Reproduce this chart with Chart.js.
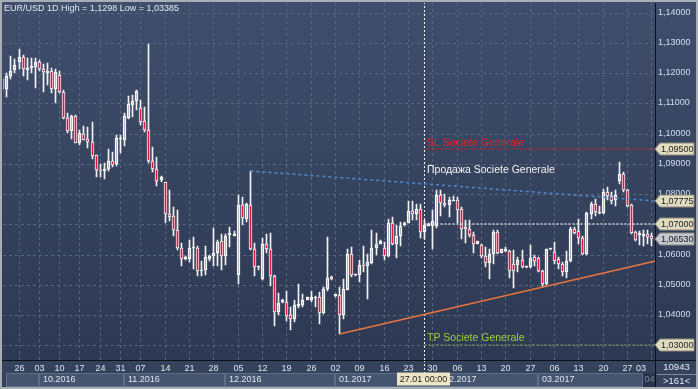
<!DOCTYPE html>
<html>
<head>
<meta charset="utf-8">
<script src="https://cdn.jsdelivr.net/npm/chart.js@4.4.1/dist/chart.umd.min.js"></script>
<style>
  html, body { margin: 0; padding: 0; background: #2f3b55; overflow: hidden; }
</style>
</head>
<body>
<canvas id="chart" width="698" height="389"></canvas>
<script>
// EUR/USD daily candles, 20.09.2016 .. 03.04.2017 (index 1..161)
const opens = [
  1.1147,1.1149,1.1189,1.1209,1.1236,1.1253,1.1211,1.1216,1.1222,1.1237,
  1.1213,1.1201,1.1208,1.1146,1.1194,1.1139,1.1053,1.1008,1.1058,1.0970,
  1.1000,1.0981,1.0974,1.0928,1.0881,1.0876,1.0884,1.0908,1.0900,1.0982,
  1.0980,1.1052,1.1096,1.1107,1.1086,1.1043,1.1013,1.0911,1.0883,1.0847,
  1.0839,1.0734,1.0729,1.0681,1.0622,1.0585,1.0585,1.0622,1.0622,1.0546,
  1.0550,1.0587,1.0596,1.0605,1.0645,1.0596,1.0665,1.0662,1.0534,1.0764,
  1.0718,1.0764,1.0617,1.0558,1.0519,1.0634,1.0620,1.0530,1.0410,1.0443,
  1.0444,1.0400,1.0388,1.0431,1.0433,1.0451,1.0449,1.0456,1.0460,1.0407,
  1.0485,1.0527,1.0464,1.0466,1.0401,1.0484,1.0601,1.0531,1.0531,1.0567,
  1.0561,1.0572,1.0622,1.0636,1.0623,1.0596,1.0703,1.0636,1.0661,1.0697,
  1.0705,1.0745,1.0733,1.0752,1.0675,1.0696,1.0694,1.0694,1.0797,1.0771,
  1.0764,1.0778,1.0782,1.0752,1.0692,1.0686,1.0664,1.0636,1.0631,1.0594,
  1.0572,1.0601,1.0675,1.0606,1.0612,1.0612,1.0568,1.0565,1.0581,1.0559,
  1.0559,1.0592,1.0590,1.0546,1.0502,1.0617,1.0609,1.0585,1.0568,1.0541,
  1.0580,1.0685,1.0678,1.0655,1.0602,1.0734,1.0767,1.0738,1.0736,1.0806,
  1.0795,1.0781,1.0845,1.0865,1.0812,1.0765,1.0676,1.0664,1.0662,1.0668,
  1.0663
];
const highs = [
  1.1185,1.1200,1.1258,1.1247,1.1280,1.1261,1.1250,1.1250,1.1250,1.1244,
  1.1231,1.1233,1.1217,1.1213,1.1206,1.1144,1.1067,1.1060,1.1060,1.1011,
  1.1024,1.1022,1.1039,1.0930,1.0900,1.0902,1.0948,1.0939,1.0994,1.0994,
  1.1069,1.1123,1.1127,1.1145,1.1110,1.1088,1.1298,1.0955,1.0924,1.0861,
  1.0841,1.0815,1.0759,1.0746,1.0638,1.0596,1.0649,1.0657,1.0627,1.0578,
  1.0627,1.0600,1.0687,1.0649,1.0668,1.0668,1.0692,1.0678,1.0797,1.0789,
  1.0772,1.0875,1.0637,1.0563,1.0654,1.0668,1.0670,1.0532,1.0474,1.0452,
  1.0479,1.0427,1.0449,1.0502,1.0468,1.0461,1.0479,1.0463,1.0477,1.0493,
  1.0657,1.0529,1.0469,1.0493,1.0520,1.0620,1.0625,1.0536,1.0581,1.0629,
  1.0603,1.0680,1.0672,1.0647,1.0642,1.0719,1.0723,1.0697,1.0708,1.0708,
  1.0778,1.0778,1.0767,1.0767,1.0716,1.0703,1.0747,1.0813,1.0813,1.0802,
  1.0791,1.0793,1.0791,1.0758,1.0714,1.0714,1.0675,1.0645,1.0636,1.0625,
  1.0620,1.0681,1.0681,1.0618,1.0625,1.0614,1.0614,1.0592,1.0614,1.0563,
  1.0631,1.0598,1.0592,1.0548,1.0620,1.0623,1.0640,1.0593,1.0574,1.0613,
  1.0690,1.0692,1.0718,1.0662,1.0740,1.0773,1.0784,1.0762,1.0817,1.0825,
  1.0806,1.0812,1.0906,1.0872,1.0817,1.0767,1.0679,1.0679,1.0680,1.0680,
  1.0672
];
const lows = [
  1.1140,1.1122,1.1181,1.1200,1.1213,1.1191,1.1178,1.1200,1.1152,1.1206,
  1.1139,1.1161,1.1133,1.1102,1.1133,1.1047,1.1002,1.0983,1.0968,1.0963,
  1.0978,1.0952,1.0917,1.0856,1.0856,1.0849,1.0876,1.0889,1.0892,1.0937,
  1.0959,1.1047,1.1055,1.1079,1.1027,1.1005,1.0903,1.0872,1.0828,1.0841,
  1.0704,1.0712,1.0662,1.0615,1.0563,1.0583,1.0574,1.0552,1.0530,1.0530,
  1.0532,1.0578,1.0561,1.0562,1.0549,1.0565,1.0626,1.0661,1.0504,1.0698,
  1.0709,1.0615,1.0530,1.0549,1.0515,1.0604,1.0496,1.0364,1.0400,1.0440,
  1.0379,1.0349,1.0377,1.0422,1.0425,1.0449,1.0444,1.0427,1.0370,1.0403,
  1.0480,1.0516,1.0461,1.03385,1.0388,1.0482,1.0526,1.0529,1.0509,1.0543,
  1.0454,1.0568,1.0600,1.0634,1.0581,1.0592,1.0631,1.0590,1.0629,1.0694,
  1.0703,1.0716,1.0716,1.0656,1.0653,1.0694,1.0620,1.0689,1.0727,1.0758,
  1.0725,1.0776,1.0703,1.0653,1.0639,1.0659,1.0606,1.0635,1.0590,1.0559,
  1.0519,1.0570,1.0603,1.0604,1.0609,1.0523,1.0491,1.0543,1.0556,1.0557,
  1.0554,1.0561,1.0543,1.0493,1.0498,1.0616,1.0569,1.0552,1.0530,1.0522,
  1.0574,1.0668,1.0635,1.0598,1.0600,1.0718,1.0729,1.0734,1.0734,1.0781,
  1.0767,1.0762,1.0834,1.0806,1.0756,1.0668,1.0644,1.0633,1.0630,1.0634,
  1.0628
];
const closes = [
  1.1180,1.1191,1.1208,1.1228,1.1253,1.1213,1.1218,1.1224,1.1237,1.1213,
  1.1203,1.1208,1.1149,1.1203,1.1139,1.1052,1.1008,1.1058,1.0970,1.1002,
  1.0980,1.0974,1.0926,1.0880,1.0876,1.0884,1.0908,1.0897,1.0987,1.0987,
  1.1057,1.1097,1.1107,1.1140,1.1040,1.1013,1.0908,1.0883,1.0845,1.0856,
  1.0734,1.0725,1.0681,1.0622,1.0587,1.0593,1.0622,1.0626,1.0546,1.0550,
  1.0593,1.0596,1.0605,1.0643,1.0596,1.0661,1.0671,1.0668,1.0764,1.0720,
  1.0766,1.0617,1.0560,1.0562,1.0635,1.0620,1.0530,1.0410,1.0441,1.0451,
  1.0397,1.0388,1.0433,1.0437,1.0449,1.0459,1.0459,1.0460,1.0407,1.0486,
  1.0524,1.0519,1.0468,1.0401,1.0487,1.0601,1.0531,1.0535,1.0567,1.0561,
  1.0576,1.0623,1.0636,1.0644,1.0596,1.0703,1.0636,1.0661,1.0695,1.0705,
  1.0745,1.0733,1.0752,1.0675,1.0699,1.0700,1.0712,1.0797,1.0769,1.0764,
  1.0780,1.0782,1.0749,1.0686,1.0684,1.0664,1.0636,1.0644,1.0594,1.0572,
  1.0601,1.0675,1.0606,1.0617,1.0620,1.0545,1.0545,1.0581,1.0559,1.0562,
  1.0590,1.0579,1.0546,1.0504,1.0617,1.0622,1.0580,1.0568,1.0541,1.0580,
  1.0685,1.0670,1.0655,1.0602,1.0736,1.0767,1.0740,1.0742,1.0806,1.0795,
  1.0778,1.0798,1.0865,1.0812,1.0762,1.0673,1.0648,1.0670,1.0668,1.0659,
  1.0653
];

// time axis: Mondays (candle index) and their day labels
const weekTicks  = [5,10,15,20,25,30,35,41,47,53,59,65,71,77,83,89,95,101,107,113,119,125,131,137,143,149,155,161];
const weekLabels = ['26','03','10','17','24','31','07','14','21','28','05','12','19','26','02','09','16','23','30','06','13','20','27','06','13','20','27','03'];
const monthStarts = [10, 31, 56, 83, 109, 133, 159];
const monthLabels = ['10.2016','11.2016','12.2016','01.2017','02.2017','03.2017','04.'];

// price axis
const priceTicks = [1.03,1.04,1.05,1.06,1.07,1.08,1.09,1.10,1.11,1.12,1.13,1.14];
const priceMin = 1.02513, priceMax = 1.14321;
const indexMin = 1.17, indexMax = 161.9;

// drawn objects
const blueTrend   = [[62, 1.0875], [161.9, 1.07775]];
const orangeTrend = [[84, 1.03385], [161.9, 1.0579]];
const crossIndex = 105;
const slLevel = 1.095, whiteLevel = 1.07, tpLevel = 1.03, lastPrice = 1.0653;

const FONT = '"Liberation Sans", Arial, sans-serif';

const bodies = opens.map((o, i) => ({ x: i + 1, y: [o, closes[i]] }));
const upperWicks = opens.map((o, i) => ({ x: i + 1, y: [Math.max(o, closes[i]), highs[i]] }));
const lowerWicks = opens.map((o, i) => ({ x: i + 1, y: [lows[i], Math.min(o, closes[i])] }));
const bodyFill = opens.map((o, i) => closes[i] < o ? '#e3123f' : 'rgba(0,0,0,0)');

const pts = arr => arr.map(p => ({ x: p[0], y: p[1] }));
const levelLine = v => [{ x: crossIndex, y: v }, { x: indexMax, y: v }];

function fmt(v) { return v.toFixed(5).replace('.', ','); }

function drawTag(ctx, xr, yPix, text, fill) {
  ctx.beginPath();
  ctx.moveTo(xr, yPix);
  ctx.lineTo(xr + 5, yPix - 6);
  ctx.lineTo(xr + 39, yPix - 6);
  ctx.lineTo(xr + 39, yPix + 6);
  ctx.lineTo(xr + 5, yPix + 6);
  ctx.closePath();
  ctx.fillStyle = fill;
  ctx.fill();
  ctx.strokeStyle = '#8e8c7c';
  ctx.lineWidth = 1;
  ctx.stroke();
  ctx.fillStyle = '#1c1c1c';
  ctx.font = '9px ' + FONT;
  ctx.textAlign = 'left';
  ctx.textBaseline = 'middle';
  ctx.fillText(text, xr + 6, yPix + 0.5);
}

// candles sit on whole pixels; shift half a pixel so 1px strokes stay sharp
const crisp = {
  id: 'crisp',
  beforeDatasetsDraw(chart) { chart.ctx.save(); chart.ctx.translate(0.5, 0); },
  afterDatasetsDraw(chart) { chart.ctx.restore(); }
};

const decor = {
  id: 'decor',
  beforeDraw(chart) {
    const { ctx, width, height } = chart;
    const g = ctx.createLinearGradient(0, 0, 0, height);
    g.addColorStop(0, '#3f4e6c');
    g.addColorStop(1, '#2c3750');
    ctx.save();
    ctx.fillStyle = g;
    ctx.fillRect(0, 0, width, height);
    ctx.restore();
  },
  afterDraw(chart) {
    const { ctx, width, height, chartArea: a, scales: { x, y } } = chart;
    ctx.save();

    // time axis background
    ctx.fillStyle = '#35425c';
    ctx.fillRect(0, a.bottom, a.right, height - a.bottom);

    // day labels
    ctx.font = '9px ' + FONT;
    ctx.fillStyle = '#dde4ef';
    ctx.textAlign = 'center';
    ctx.textBaseline = 'middle';
    weekTicks.forEach((v, i) => {
      const w = ctx.measureText(weekLabels[i]).width;
      let px = x.getPixelForValue(v) + 0.5;
      px = Math.min(px, a.right - 9 - w / 2);
      ctx.fillText(weekLabels[i], px, a.bottom + 8.5);
    });

    // month boxes
    const rowTop = a.bottom + 13, rowH = 14;
    const boxes = [[a.left + 3, x.getPixelForValue(monthStarts[0]), '']];
    monthStarts.forEach((m, i) => {
      const l = x.getPixelForValue(m);
      const r = i + 1 < monthStarts.length ? x.getPixelForValue(monthStarts[i + 1]) : a.right;
      boxes.push([l, r, monthLabels[i]]);
    });
    boxes.forEach((b, i) => {
      const last = i === boxes.length - 1;
      ctx.fillStyle = last ? '#2a344d' : '#46556f';
      ctx.fillRect(b[0], rowTop, b[1] - b[0], rowH);
      ctx.strokeStyle = last ? '#2a344d' : '#5e6d88';
      ctx.strokeRect(Math.round(b[0]) + 0.5, rowTop + 0.5, Math.round(b[1] - b[0]) - 1, rowH - 1);
      if (b[2]) {
        ctx.save();
        ctx.beginPath();
        ctx.rect(b[0], rowTop, b[1] - b[0], rowH);
        ctx.clip();
        ctx.fillStyle = last ? '#7a879e' : '#dde4ef';
        ctx.textAlign = 'left';
        ctx.fillText(b[2], b[0] + (last ? 1.5 : 4), rowTop + 7);
        ctx.restore();
      }
    });

    // crosshair extension and date label
    const cx = x.getPixelForValue(crossIndex);
    ctx.strokeStyle = '#f2f2f2';
    ctx.setLineDash([2, 2]);
    ctx.beginPath();
    ctx.moveTo(Math.round(cx) + 0.5, a.bottom);
    ctx.lineTo(Math.round(cx) + 0.5, a.bottom + 13);
    ctx.stroke();
    ctx.setLineDash([]);
    ctx.fillStyle = '#ebe5c6';
    ctx.fillRect(cx - 27, a.bottom + 12.5, 53, 13);
    ctx.fillStyle = '#1c1c1c';
    ctx.textAlign = 'center';
    ctx.fillText('27.01 00:00', cx - 0.5, a.bottom + 19.5);

    // annotations
    const lineY = (p, idx) => {
      const t = (idx - p[0][0]) / (p[1][0] - p[0][0]);
      return y.getPixelForValue(p[0][1] + t * (p[1][1] - p[0][1]));
    };
    ctx.textAlign = 'left';
    ctx.textBaseline = 'alphabetic';
    ctx.font = '10.5px ' + FONT;
    ctx.fillStyle = '#e8202a';
    ctx.fillText('SL Societe Generale', cx + 3, y.getPixelForValue(slLevel) - 3);
    ctx.fillStyle = '#f2f2f2';
    ctx.fillText('Продажа Societe Generale', cx + 3, lineY(blueTrend, crossIndex) - 11);
    ctx.fillStyle = '#9fcf3a';
    ctx.fillText('TP Societe Generale', cx + 3, y.getPixelForValue(tpLevel) - 4);

    // axis separators
    ctx.strokeStyle = '#0e1218';
    ctx.lineWidth = 1;
    ctx.beginPath();
    ctx.moveTo(Math.round(a.right) + 0.5, a.top);
    ctx.lineTo(Math.round(a.right) + 0.5, height);
    ctx.moveTo(0, Math.round(a.bottom) + 0.5);
    ctx.lineTo(width, Math.round(a.bottom) + 0.5);
    ctx.stroke();

    // price tags
    const xr = a.right;
    drawTag(ctx, xr, y.getPixelForValue(slLevel), fmt(slLevel), '#e1dcc0');
    drawTag(ctx, xr, y.getPixelForValue(blueTrend[1][1]), fmt(blueTrend[1][1]), '#e1dcc0');
    drawTag(ctx, xr, y.getPixelForValue(whiteLevel), fmt(whiteLevel), '#e1dcc0');
    drawTag(ctx, xr, y.getPixelForValue(lastPrice), fmt(lastPrice), '#c3c7ce');
    drawTag(ctx, xr, y.getPixelForValue(tpLevel), fmt(tpLevel), '#e1dcc0');

    // corner box
    ctx.fillStyle = '#36435d';
    ctx.fillRect(a.right + 1, a.bottom + 1, width - a.right - 1, height - a.bottom - 1);
    ctx.strokeStyle = '#7d8aa0';
    ctx.beginPath();
    ctx.moveTo(a.right + 2, a.bottom + 14.5);
    ctx.lineTo(width - 2, a.bottom + 14.5);
    ctx.stroke();
    ctx.font = '9.5px ' + FONT;
    ctx.fillStyle = '#e2e8f2';
    ctx.textAlign = 'center';
    ctx.textBaseline = 'middle';
    ctx.fillText('10943', (a.right + width) / 2, a.bottom + 7.5);
    ctx.fillText('>161<', (a.right + width) / 2, a.bottom + 21);

    // title
    ctx.font = '9px ' + FONT;
    ctx.fillStyle = '#e4e9f0';
    ctx.textAlign = 'left';
    ctx.fillText('EUR/USD 1D High = 1,1298 Low = 1,03385', 4, 8.5);

    // outer frame
    ctx.strokeStyle = '#a9adb5';
    ctx.lineWidth = 2;
    ctx.strokeRect(1, 1, width - 2, height - 2);
    ctx.restore();
  }
};

new Chart(document.getElementById('chart'), {
  type: 'bar',
  data: {
    datasets: [
      { type: 'line', data: pts(blueTrend), borderColor: '#4f86cc', borderWidth: 1.5, borderDash: [3, 3], pointRadius: 0 },
      { type: 'line', data: pts(orangeTrend), borderColor: '#e8753f', borderWidth: 1.5, pointRadius: 0 },
      { type: 'line', data: levelLine(slLevel), borderColor: '#e32222', borderWidth: 1, borderDash: [2, 2], pointRadius: 0 },
      { type: 'line', data: levelLine(whiteLevel), borderColor: '#d9d9d9', borderWidth: 1.5, borderDash: [2, 2], pointRadius: 0 },
      { type: 'line', data: levelLine(tpLevel), borderColor: '#8eb05a', borderWidth: 1, borderDash: [2, 2], pointRadius: 0 },
      { type: 'line', data: [{ x: crossIndex, y: priceMin }, { x: crossIndex, y: priceMax }], borderColor: '#f2f2f2', borderWidth: 1, borderDash: [2, 2], pointRadius: 0 },
      { data: bodies, backgroundColor: bodyFill, borderColor: '#f6f6f6', borderWidth: 1, borderSkipped: false,
        grouped: false, barPercentage: 1, categoryPercentage: 1, maxBarThickness: 3 },
      { data: upperWicks, backgroundColor: '#f2f2f2', borderWidth: 0,
        grouped: false, barPercentage: 1, categoryPercentage: 1, maxBarThickness: 1 },
      { data: lowerWicks, backgroundColor: '#f2f2f2', borderWidth: 0,
        grouped: false, barPercentage: 1, categoryPercentage: 1, maxBarThickness: 1 }
    ]
  },
  options: {
    responsive: false,
    animation: false,
    events: [],
    layout: { padding: { left: 3, top: 3, right: 0, bottom: 0 } },
    plugins: { legend: { display: false }, tooltip: { enabled: false } },
    scales: {
      x: {
        type: 'linear', min: indexMin, max: indexMax, offset: false, alignToPixels: true,
        afterBuildTicks: s => { s.ticks = weekTicks.map(v => ({ value: v })); },
        afterFit: s => { s.height = 29; s.paddingLeft = 0; s.paddingRight = 0; },
        ticks: { display: false },
        grid: { color: '#56667f', drawTicks: false, offset: false },
        border: { display: false, dash: [3, 3] }
      },
      y: {
        type: 'linear', position: 'right', min: priceMin, max: priceMax, alignToPixels: true,
        afterBuildTicks: s => { s.ticks = priceTicks.map(v => ({ value: v })); },
        afterFit: s => { s.width = 43; s.paddingTop = 0; s.paddingBottom = 0; },
        ticks: { autoSkip: false, callback: v => fmt(v), color: '#d3def0', font: { family: FONT, size: 9 }, padding: 3 },
        grid: { color: '#56667f', drawTicks: false },
        border: { display: false, dash: [3, 3] }
      }
    }
  },
  plugins: [crisp, decor]
});
</script>
</body>
</html>
